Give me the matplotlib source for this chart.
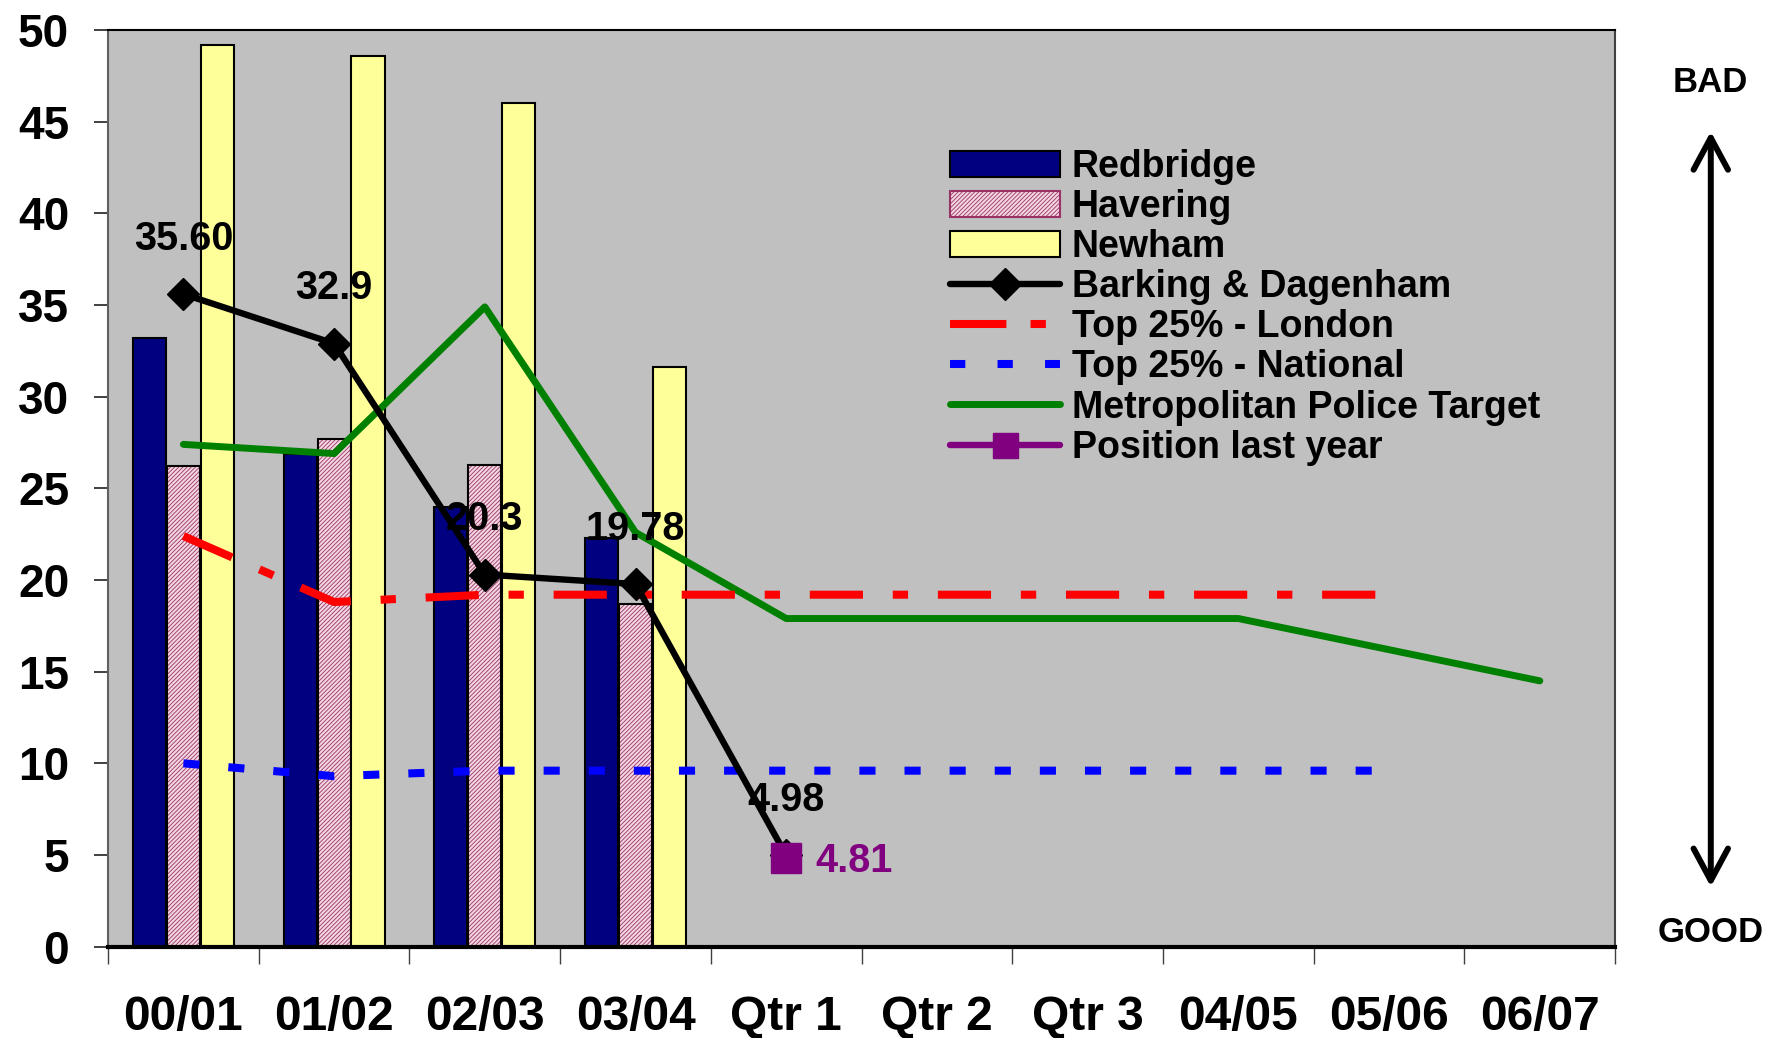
import numpy as np
import matplotlib.pyplot as plt
from matplotlib.patches import Patch
from matplotlib.lines import Line2D

plt.rcParams["font.family"] = ["Liberation Sans", "DejaVu Sans"]
plt.rcParams["font.weight"] = "bold"
plt.rcParams["hatch.linewidth"] = 0.6

categories = ["00/01", "01/02", "02/03", "03/04", "Qtr 1",
              "Qtr 2", "Qtr 3", "04/05", "05/06", "06/07"]
redbridge = [33.2, 26.9, 24.0, 22.3]
havering = [26.2, 27.7, 26.3, 18.7]
newham = [49.2, 48.6, 46.0, 31.6]
barking = [35.60, 32.9, 20.3, 19.78, 4.98]
barking_labels = ["35.60", "32.9", "20.3", "19.78", "4.98"]
london = [22.4, 18.8, 19.2, 19.2, 19.2, 19.2, 19.2, 19.2, 19.2]
national = [10.0, 9.3, 9.6, 9.6, 9.6, 9.6, 9.6, 9.6, 9.6]
met_target = [27.4, 26.9, 34.9, 22.6, 17.9, 17.9, 17.9, 17.9, 16.2, 14.5]
last_year_idx = 4
last_year = 4.81

RED_DASH = (6.6, 3.7, 1.9, 3.7)
BLUE_DASH = (2.0, 3.6)

fig = plt.figure(figsize=(17.71, 10.38), dpi=100)
ax = fig.add_axes([0.061, 0.088, 0.851, 0.883])
ax.set_facecolor("#c0c0c0")

x = np.arange(len(categories))
w = 0.22
xb = x[:len(redbridge)]
ax.bar(xb - 0.225, redbridge, w, color="#000080", edgecolor="black",
       linewidth=1.5, zorder=2)
ax.bar(xb, havering, w, color="#f3d6e0", edgecolor="#993366",
       hatch="////////", linewidth=0, zorder=2)
ax.bar(xb, havering, w, fill=False, edgecolor="black", linewidth=1.5, zorder=2)
ax.bar(xb + 0.225, newham, w, color="#ffff99", edgecolor="black",
       linewidth=1.5, zorder=2)

ax.plot(x[:len(met_target)], met_target, color="#008000", lw=5,
        solid_capstyle="round", zorder=3)
ax.plot(x[:len(london)], london, color="#ff0000", lw=5.8,
        dashes=RED_DASH, zorder=3)
ax.plot(x[:len(national)], national, color="#0000ff", lw=5.8,
        dashes=BLUE_DASH, zorder=3)
ax.plot(x[:len(barking)], barking, color="black", lw=4.6, marker="D",
        ms=16, zorder=4)
ax.plot([x[last_year_idx]], [last_year], color="#800080", marker="s",
        ms=21, lw=0, zorder=5)

for xi, v, s in zip(x, barking, barking_labels):
    ax.annotate(s, (xi, v), xytext=(0, 40), textcoords="offset points",
                ha="center", va="center", fontsize=28.5, fontweight="bold",
                zorder=6)
ax.annotate(f"{last_year:.2f}", (x[last_year_idx], last_year),
            xytext=(21, -2), textcoords="offset points", ha="left",
            va="center", fontsize=28.5, fontweight="bold", color="#800080",
            zorder=6)

ax.set_xlim(-0.5, 9.5)
ax.set_ylim(0, 50)
ax.set_yticks(np.arange(0, 51, 5))
ax.tick_params(axis="y", labelsize=33, length=10, width=1.2, pad=18,
               color="#202020")
ax.set_xticks(np.arange(-0.5, 10, 1))
ax.set_xticklabels([])
ax.set_xticks(x, minor=True)
ax.set_xticklabels(categories, minor=True)
ax.tick_params(axis="x", which="major", length=12, width=1, color="#404040")
ax.tick_params(axis="x", which="minor", length=0, labelsize=34.5, pad=35)
for lab in ax.get_xticklabels(minor=True) + ax.get_yticklabels():
    lab.set_fontweight("bold")

ax.spines["bottom"].set_linewidth(3)
ax.spines["left"].set_color("#606060")
ax.spines["left"].set_linewidth(1.5)
ax.spines["top"].set_linewidth(1.5)
ax.spines["right"].set_linewidth(1.5)
ax.spines["right"].set_color("#404040")

handles = [
    Patch(facecolor="#000080", edgecolor="black", linewidth=1.5),
    Patch(facecolor="#f3d6e0", edgecolor="#993366", hatch="////////",
          linewidth=1.5),
    Patch(facecolor="#ffff99", edgecolor="black", linewidth=1.5),
    Line2D([], [], color="black", lw=4.6, marker="D", ms=16,
           solid_capstyle="round"),
    Line2D([], [], color="#ff0000", lw=5.8, dashes=(7.0, 3.0, 1.9, 3.0)),
    Line2D([], [], color="#0000ff", lw=5.8, dashes=(1.9, 4.0)),
    Line2D([], [], color="#008000", lw=5, solid_capstyle="round"),
    Line2D([], [], color="#800080", lw=4.6, marker="s", ms=18,
           solid_capstyle="round"),
]
labels = ["Redbridge", "Havering", "Newham", "Barking & Dagenham",
          "Top 25% - London", "Top 25% - National",
          "Metropolitan Police Target", "Position last year"]
leg = ax.legend(handles, labels, loc="upper left",
                bbox_to_anchor=(0.546, 0.891), frameon=False,
                handlelength=2.95, handletextpad=0.3, labelspacing=0.11,
                borderpad=0, prop={"weight": "bold", "size": 27})

fig.text(0.966, 0.921, "BAD", ha="center", va="center", fontsize=25,
         fontweight="bold")
fig.text(0.966, 0.102, "GOOD", ha="center", va="center", fontsize=25,
         fontweight="bold")
fig.add_artist(plt.Annotation(
    "", xy=(0.966, 0.876), xytext=(0.966, 0.143), xycoords="figure fraction",
    arrowprops=dict(arrowstyle="<->,head_length=1.15,head_width=0.62",
                    mutation_scale=20, lw=4.3, color="black",
                    capstyle="round", joinstyle="round")))

fig.savefig("out.png", dpi=100, facecolor="white")
